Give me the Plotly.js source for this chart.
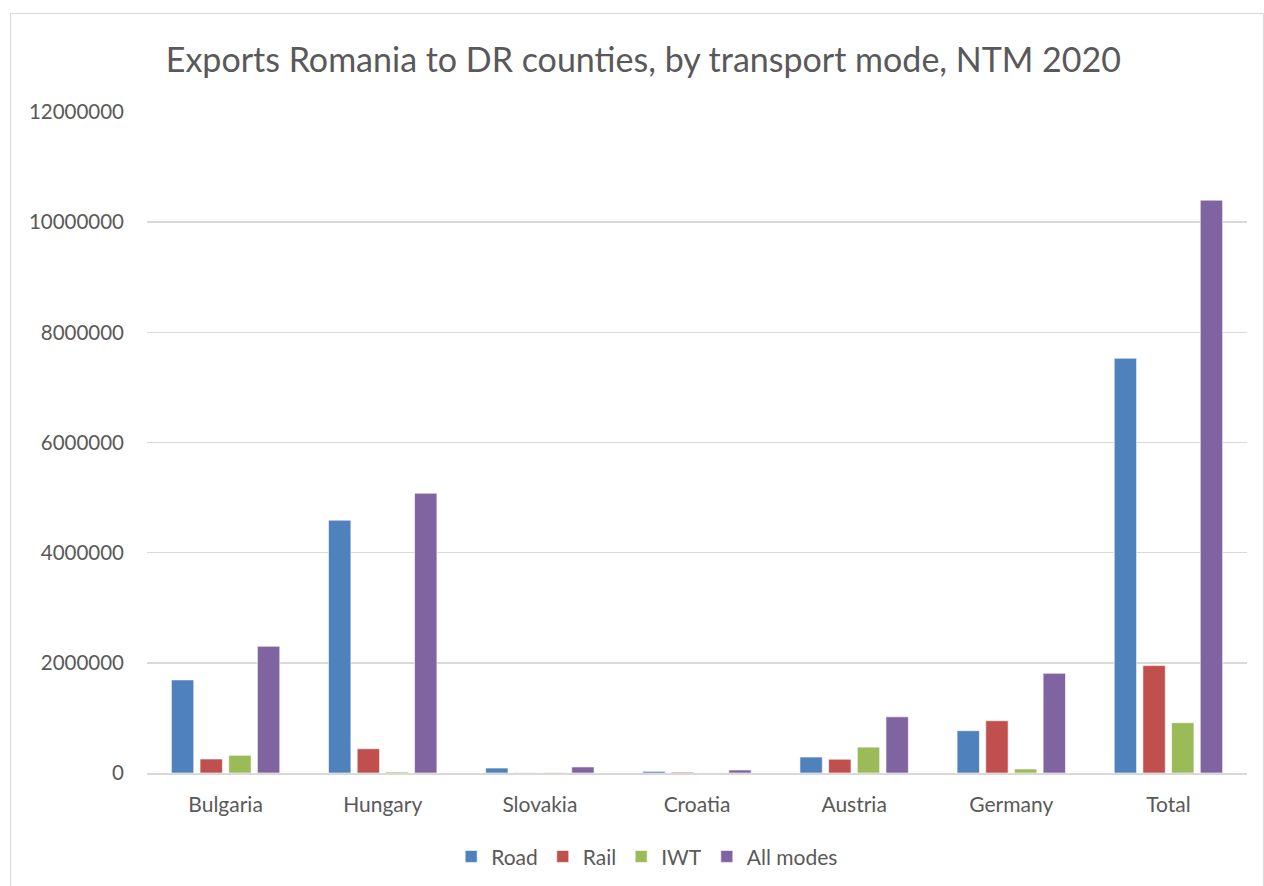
<!DOCTYPE html>
<html>
<head>
<meta charset="utf-8">
<script src="https://cdn.plot.ly/plotly-3.0.1.min.js"></script>
<style>
html,body{margin:0;padding:0;background:#fff;}
#chart{width:1264px;height:886px;}
#frame{position:absolute;left:10px;top:13px;width:1252px;height:900px;border:1px solid #d9d9d9;pointer-events:none;}
</style>
</head>
<body>
<div id="chart"></div>
<div id="frame"></div>
<script>
const categories = ["Bulgaria", "Hungary", "Slovakia", "Croatia", "Austria", "Germany", "Total"];
const road = [1690000, 4590000, 90000, 30000, 290000, 768000, 7530000];
const rail = [254000, 441000, 3000, 15000, 250000, 949000, 1950000];
const iwt = [321000, 20000, 10000, 2000, 470000, 73000, 913000];
const allModes = [2300000, 5080000, 110000, 55000, 1020000, 1810000, 10400000];
const seriesNames = ["Road", "Rail", "IWT", "All modes"];
const seriesColors = ["#4F81BD", "#C0504D", "#9BBB59", "#8064A2"];
const tickVals = [0, 2000000, 4000000, 6000000, 8000000, 10000000, 12000000];
const tickText = ["0", "2000000", "4000000", "6000000", "8000000", "10000000", "12000000"];

const seriesData = [road, rail, iwt, allModes];
const traces = seriesData.map((vals, i) => ({
  type: "bar",
  name: seriesNames[i],
  x: categories,
  y: vals,
  marker: {color: seriesColors[i], line: {color: "rgba(255,255,255,0.6)", width: 1}},
  hoverinfo: "x+y+name"
}));

const font = "Lato, 'Open Sans', sans-serif";
const layout = {
  width: 1264,
  height: 886,
  paper_bgcolor: "#ffffff",
  plot_bgcolor: "#ffffff",
  margin: {l: 147, r: 17, t: 112, b: 113, autoexpand: false},
  barmode: "group",
  bargap: 0.27,
  bargroupgap: 0.22,
  title: {
    text: "Exports Romania to DR counties, by transport mode, NTM 2020",
    font: {family: font, size: 34, color: "#595959"},
    x: 0.509, xanchor: "center", xref: "container",
    y: 0.932, yanchor: "middle", yref: "container"
  },
  xaxis: {
    type: "category",
    showgrid: false,
    showline: true,
    linecolor: "#d9d9d9",
    linewidth: 2,
    ticks: "",
    tickfont: {family: font, size: 21, color: "#595959"},
    ticklabelstandoff: 12
  },
  yaxis: {
    range: [0, 12000000],
    tickvals: tickVals,
    ticktext: tickText,
    showgrid: true,
    gridcolor: "#d9d9d9",
    gridwidth: 1.5,
    zeroline: false,
    showline: false,
    ticks: "",
    tickfont: {family: font, size: 20.5, color: "#595959"},
    ticklabelstandoff: 22
  },
  legend: {
    orientation: "h",
    xref: "container", yref: "container",
    x: 0.512, xanchor: "center",
    y: 0.033, yanchor: "middle",
    font: {family: font, size: 21, color: "#595959"},
    itemwidth: 30,
    traceorder: "normal"
  },
  showlegend: true
};

Plotly.newPlot("chart", traces, layout, {staticPlot: true, displayModeBar: false});
</script>
</body>
</html>
